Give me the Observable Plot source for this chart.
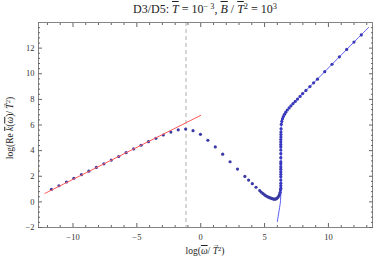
<!DOCTYPE html>
<html><head><meta charset="utf-8">
<script src="https://cdn.jsdelivr.net/npm/d3@7"></script>
<script src="https://cdn.jsdelivr.net/npm/@observablehq/plot@0.6"></script>
<style>
body{margin:0;background:#fff;}
#wrap{position:relative;width:374px;height:266px;font-family:"Liberation Serif",serif;color:#222;overflow:hidden;}
.t{position:absolute;white-space:nowrap;line-height:1;}
.ov{text-decoration:overline;text-decoration-thickness:0.6px;}
.vec{position:relative;display:inline-block;font-style:italic;}
.vec::after{content:"\2192";position:absolute;left:-0.5px;top:-0.72em;font-size:0.75em;font-style:normal;}
sup{font-size:0.7em;vertical-align:0.45em;line-height:0;}
</style></head>
<body><div id="wrap"></div>
<script>
// blue numeric points (x = log(ω/T^2), y = log(Re k / T^2))
const ptX = [-11.69,-11.10,-10.51,-9.93,-9.34,-8.76,-8.17,-7.58,-7.00,-6.42,-5.84,-5.25,-4.67,-4.09,-3.51,-2.93,-2.34,-1.76,-1.18,-0.60,-0.02,0.56,1.14,1.72,2.30,2.88,3.46,3.75,4.04,4.33,4.62,
 4.75,4.88,5.00,5.10,5.20,5.30,5.40,5.50,5.60,5.70,5.78,5.86,5.94,6.02,6.10,6.17,6.22,6.25,
 6.27,6.27,6.27,6.27,6.27,6.27,6.27,6.27,6.27,6.27,6.27,6.27,6.27,6.27,6.27,6.27,6.27,6.27,6.28,6.28,6.28,6.29,
 6.31,6.35,6.40,6.47,6.56,6.66,6.78,6.92,7.07,7.23,7.40,7.58,7.78,7.98,8.24,8.55,8.84,9.14,9.71,10.28,10.86,11.43,12.00,12.57];
const ptY = [0.97,1.26,1.55,1.84,2.12,2.40,2.69,2.97,3.26,3.54,3.84,4.13,4.42,4.70,4.96,5.22,5.45,5.62,5.68,5.56,5.27,4.81,4.29,3.72,3.13,2.56,1.99,1.70,1.42,1.14,0.88,
 0.75,0.64,0.55,0.48,0.42,0.37,0.33,0.29,0.25,0.22,0.21,0.22,0.26,0.33,0.43,0.58,0.75,0.95,
 1.06,1.25,1.45,1.70,1.96,2.15,2.35,2.55,2.74,2.95,3.12,3.45,3.77,4.05,4.29,4.47,4.67,4.87,5.06,5.25,5.45,5.70,
 6.05,6.28,6.48,6.66,6.83,7.00,7.17,7.33,7.50,7.67,7.84,8.02,8.23,8.45,8.70,9.00,9.29,9.58,10.16,10.74,11.32,11.90,12.47,13.03];
// red low-frequency fit line
const fitX = [-12.2, 0.0];
const fitY = [0.66, 6.75];
// blue thin analytic curve
const curveX = [6.00,6.06,6.12,6.18,6.23,6.26,6.28,6.29,6.295,6.31,6.35,6.40,6.47,6.56,6.66,6.78,6.92,7.07,7.23,7.40,7.58,7.78,7.98,8.55,9.71,10.86,12.00,13.15];
const curveY = [-1.55,-1.15,-0.78,-0.42,-0.10,0.30,0.90,2.00,5.00,6.05,6.28,6.48,6.66,6.83,7.00,7.17,7.33,7.50,7.67,7.84,8.02,8.23,8.45,9.00,10.16,11.32,12.47,13.62];
// vertical dashed marker
const dashX = [-1.15];
// ticks
const xMajor = [-10,-5,0,5,10];
const xMinor = [-12,-11,-9,-8,-7,-6,-4,-3,-2,-1,1,2,3,4,6,7,8,9,11,12,13];
const yMajor = [-2,0,2,4,6,8,10,12];
const yMinor = d3.range(-2,14.01,0.4).filter(v => Math.abs(v/2 - Math.round(v/2)) > 0.01);

const points = ptX.map((x,i)=>({x, y: ptY[i]}));
const fit = fitX.map((x,i)=>({x, y: fitY[i]}));
const curve = curveX.map((x,i)=>({x, y: curveY[i]}));
const blank = () => "";
const frameCol = "#666";

const chart = Plot.plot({
  width: 374, height: 266,
  marginTop: 22, marginBottom: 39, marginLeft: 38, marginRight: 2,
  x: {domain: [-12.7, 13.45]},
  y: {domain: [-2, 14]},
  style: {fontFamily: '"Liberation Serif", serif', fontSize: "8.5px", color: "#333", background: "transparent"},
  marks: [
    Plot.ruleX(dashX, {stroke: "#999", strokeWidth: 0.8, strokeDasharray: "4,3"}),
    Plot.dot(points, {x: "x", y: "y", r: 1.6, fill: "#3a3aa6", stroke: null}),
    Plot.line(fit, {x: "x", y: "y", stroke: "#ff5c5c", strokeWidth: 1}),
    Plot.line(curve, {x: "x", y: "y", stroke: "#3535f0", strokeWidth: 0.8, curve: "catmull-rom"}),
    Plot.frame({stroke: frameCol, strokeWidth: 0.8}),
    Plot.axisX(xMajor, {anchor: "bottom", tickSize: -4, tickFormat: blank, label: null, stroke: frameCol}),
    Plot.axisX(xMinor, {anchor: "bottom", tickSize: -2, tickFormat: blank, label: null, stroke: frameCol}),
    Plot.axisX(xMajor, {anchor: "top", tickSize: -4, tickFormat: blank, label: null, stroke: frameCol}),
    Plot.axisX(xMinor, {anchor: "top", tickSize: -2, tickFormat: blank, label: null, stroke: frameCol}),
    Plot.axisY(yMajor, {anchor: "left", tickSize: -4, tickFormat: blank, label: null, stroke: frameCol}),
    Plot.axisY(yMinor, {anchor: "left", tickSize: -2, tickFormat: blank, label: null, stroke: frameCol}),
    Plot.axisY(yMajor, {anchor: "right", tickSize: -4, tickFormat: blank, label: null, stroke: frameCol}),
    Plot.axisY(yMinor, {anchor: "right", tickSize: -2, tickFormat: blank, label: null, stroke: frameCol}),
    Plot.axisX(xMajor, {anchor: "bottom", tickSize: 0, tickPadding: 6, label: null, fill: "#333"}),
    Plot.axisY(yMajor, {anchor: "left", tickSize: 0, tickPadding: 4, label: null, fill: "#333"})
  ]
});
const wrap = document.getElementById("wrap");
wrap.appendChild(chart);
chart.style.position = "absolute"; chart.style.left = "0"; chart.style.top = "0";

const title = document.createElement("div");
title.className = "t";
title.style.cssText = "left:205px;top:3px;transform:translateX(-50%);font-size:12px;";
title.innerHTML = 'D3/D5: <i class="ov">T</i> = 10<sup>\u2212 3</sup>, <i class="ov">B</i> / <i class="ov">T</i><sup>2</sup> = 10<sup>3</sup>';
wrap.appendChild(title);

const xl = document.createElement("div");
xl.className = "t";
xl.style.cssText = "left:205px;top:247px;transform:translateX(-50%);font-size:9.5px;";
xl.innerHTML = 'log(<i class="ov">\u03C9</i>/ <span class="vec">T</span><sup>2</sup>)';
wrap.appendChild(xl);

const yl = document.createElement("div");
yl.className = "t";
yl.style.cssText = "left:11px;top:128px;transform:translate(-50%,-50%) rotate(-90deg);font-size:9.5px;";
yl.innerHTML = 'log(Re <i class="ov">k</i>(<i class="ov">\u03C9</i>)/ <span class="vec">T</span><sup>2</sup>)';
wrap.appendChild(yl);
</script></body></html>
